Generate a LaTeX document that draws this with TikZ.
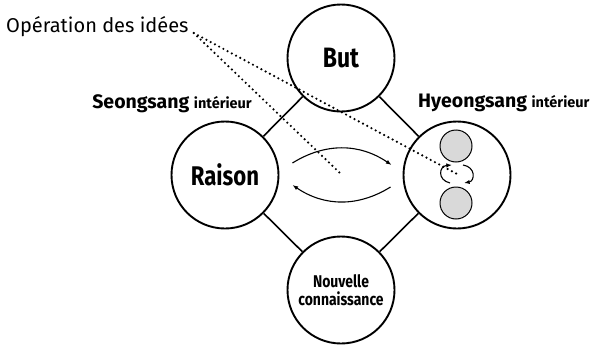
\documentclass[tikz,border=0pt]{standalone}
\usepackage{fontspec}
\setmainfont{Fira Sans}
\newfontfamily\condfont[FakeStretch=0.82]{Fira Sans}
\usetikzlibrary{arrows.meta,positioning,calc}

\tikzset{
  bigcircle/.style={draw, circle, line width=1.9pt, minimum size=107pt, inner sep=0pt, align=center},
  graycircle/.style={draw, circle, line width=1pt, fill=black!15, minimum size=32pt, inner sep=0pt},
  link/.style={line width=1.6pt},
  dotline/.style={line width=2.4pt, dash pattern=on 0pt off 4.8pt, line cap=round},
  flow/.style={line width=1.1pt, -{Latex[length=2mm]}},
  sidelabel/.style={inner sep=0pt, font=\bfseries},
}

\begin{document}
\begin{tikzpicture}[x=1pt, y=-1pt]
  \useasboundingbox (0,0) rectangle (593,345);

  \node[bigcircle, font=\condfont\bfseries\fontsize{28}{30}\selectfont] at (341,58) (but) {But};
  \node[bigcircle, font=\condfont\bfseries\fontsize{27}{30}\selectfont] at (225,175) (raison) {Raison};
  \node[bigcircle] at (457,175) (hyeong) {};
  \node[bigcircle, font=\condfont\bfseries\fontsize{17}{18}\selectfont] at (341,290) (nouv) {Nouvelle\\connaissance};

  \node[graycircle] at (456,146) (gtop) {};
  \node[graycircle] at (456,203) (gbot) {};

  \node[anchor=base west, inner sep=0pt, font=\fontsize{20}{22}\selectfont] at (6,33) (ops) {Opération des idées};
  \node[sidelabel, anchor=base east] at (252,108) (seong) {\fontsize{19.5}{20}\selectfont Seongsang \fontsize{14.5}{20}\selectfont intérieur};
  \node[sidelabel, anchor=base west] at (418,107) (hyeonglbl) {\fontsize{19.5}{20}\selectfont Hyeongsang \fontsize{14.5}{20}\selectfont intérieur};

  % diamond links
  \draw[link] (but) -- (raison);
  \draw[link] (but) -- (hyeong);
  \draw[link] (raison) -- (nouv);
  \draw[link] (hyeong) -- (nouv);

  % exchange between the two sides
  \draw[flow] ([shift={(13,-12)}]raison.east) to[bend left=33] ([shift={(-11,-10)}]hyeong.west);
  \draw[flow] ([shift={(-12,12)}]hyeong.west) to[bend left=33] ([shift={(13,10)}]raison.east);

  % small cycle between the gray circles
  \coordinate (cyc) at (457,174);
  \draw[flow] ([shift={(-7,9)}]cyc) .. controls ([shift={(-20,6)}]cyc) and ([shift={(-18,-8)}]cyc) .. ([shift={(-5,-9)}]cyc);
  \draw[flow] ([shift={(6,-9)}]cyc) .. controls ([shift={(19,-7)}]cyc) and ([shift={(18,7)}]cyc) .. ([shift={(7,9)}]cyc);

  % dotted pointers
  \coordinate (mid) at (342,175);
  \coordinate[right=5pt of ops.base east] (opsend);
  \draw[dotline] (opsend) -- (cyc);
  \draw[dotline] (opsend) -- (mid);
\end{tikzpicture}
\end{document}
